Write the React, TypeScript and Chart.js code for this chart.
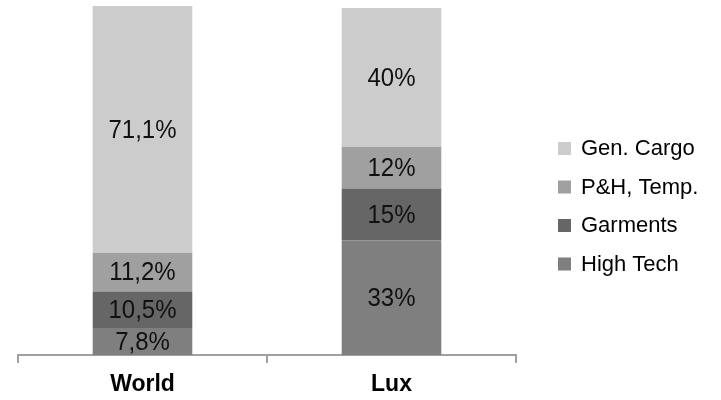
import React, { useEffect, useRef } from "react";
import { Chart, registerables } from "chart.js";

Chart.register(...registerables);

const categories = ["World", "Lux"];
const highTech = [7.8, 33];
const garments = [10.5, 15];
const phTemp = [11.2, 12];
const genCargo = [71.1, 40];

const seriesNames = ["High Tech", "Garments", "P&H, Temp.", "Gen. Cargo"];
const seriesColors = ["#7f7f7f", "#666666", "#a0a0a0", "#cccccc"];

const FONT = "'Liberation Sans', Arial, sans-serif";

function fmt(v: number): string {
  if (Number.isInteger(v)) return `${v}%`;
  return v.toFixed(1).replace(".", ",") + "%";
}

const valueLabels = {
  id: "valueLabels",
  afterDatasetsDraw(chart: any) {
    const ctx = chart.ctx;
    chart.data.datasets.forEach((ds: any, di: number) => {
      const meta = chart.getDatasetMeta(di);
      meta.data.forEach((el: any, i: number) => {
        const p = el.getProps(["x", "y", "base"], true);
        ctx.save();
        ctx.translate(p.x, (p.y + p.base) / 2 + 1);
        ctx.scale(1, 1.1);
        ctx.font = `24px ${FONT}`;
        ctx.fillStyle = "#111";
        ctx.textAlign = "center";
        ctx.textBaseline = "middle";
        ctx.fillText(fmt(ds.data[i]), 0, 0);
        ctx.restore();
      });
    });
  },
};

const sideLegend = {
  id: "sideLegend",
  afterDraw(chart: any) {
    const ctx = chart.ctx;
    const ds = chart.data.datasets.slice().reverse();
    ctx.save();
    ctx.font = `22px ${FONT}`;
    ctx.textAlign = "left";
    ctx.textBaseline = "middle";
    ds.forEach((d: any, i: number) => {
      const cy = 148 + i * 38.5;
      ctx.fillStyle = d.backgroundColor;
      ctx.fillRect(558, cy - 6, 13, 13);
      ctx.fillStyle = "#000";
      ctx.fillText(d.label, 581, cy + 1);
    });
    ctx.restore();
  },
};

export default function App() {
  const ref = useRef<HTMLCanvasElement | null>(null);
  useEffect(() => {
    if (!ref.current) return;
    const seriesData = [highTech, garments, phTemp, genCargo];
    const chart = new Chart(ref.current, {
      type: "bar",
      data: {
        labels: categories,
        datasets: seriesData.map((d, i) => ({
          label: seriesNames[i],
          data: d,
          backgroundColor: seriesColors[i],
          borderWidth: 0,
          categoryPercentage: 1,
          barPercentage: 0.4,
          clip: false as any,
        })),
      },
      options: {
        responsive: false,
        animation: false,
        layout: { padding: { left: 18, right: 205, top: 8, bottom: 0 } },
        plugins: { legend: { display: false }, tooltip: { enabled: false } },
        scales: {
          x: {
            stacked: true,
            grid: {
              display: true,
              drawOnChartArea: false,
              drawTicks: true,
              tickLength: 8,
              color: "#a0a0a0",
              lineWidth: 2,
              offset: true,
            },
            border: { display: true, color: "#a0a0a0", width: 2 },
            ticks: {
              color: "#000",
              font: { family: FONT, size: 23, weight: "bold" },
              padding: 8,
            },
            afterFit: (scale: any) => {
              scale.height = 45;
            },
          },
          y: {
            stacked: true,
            display: false,
            min: 0,
            max: 100,
          },
        },
      },
      plugins: [valueLabels, sideLegend],
    });
    return () => chart.destroy();
  }, []);
  return (
    <div style={{ position: "absolute", left: 0, top: 0, width: 721, height: 400, background: "#fff" }}>
      <canvas ref={ref} width={721} height={400} />
    </div>
  );
}
